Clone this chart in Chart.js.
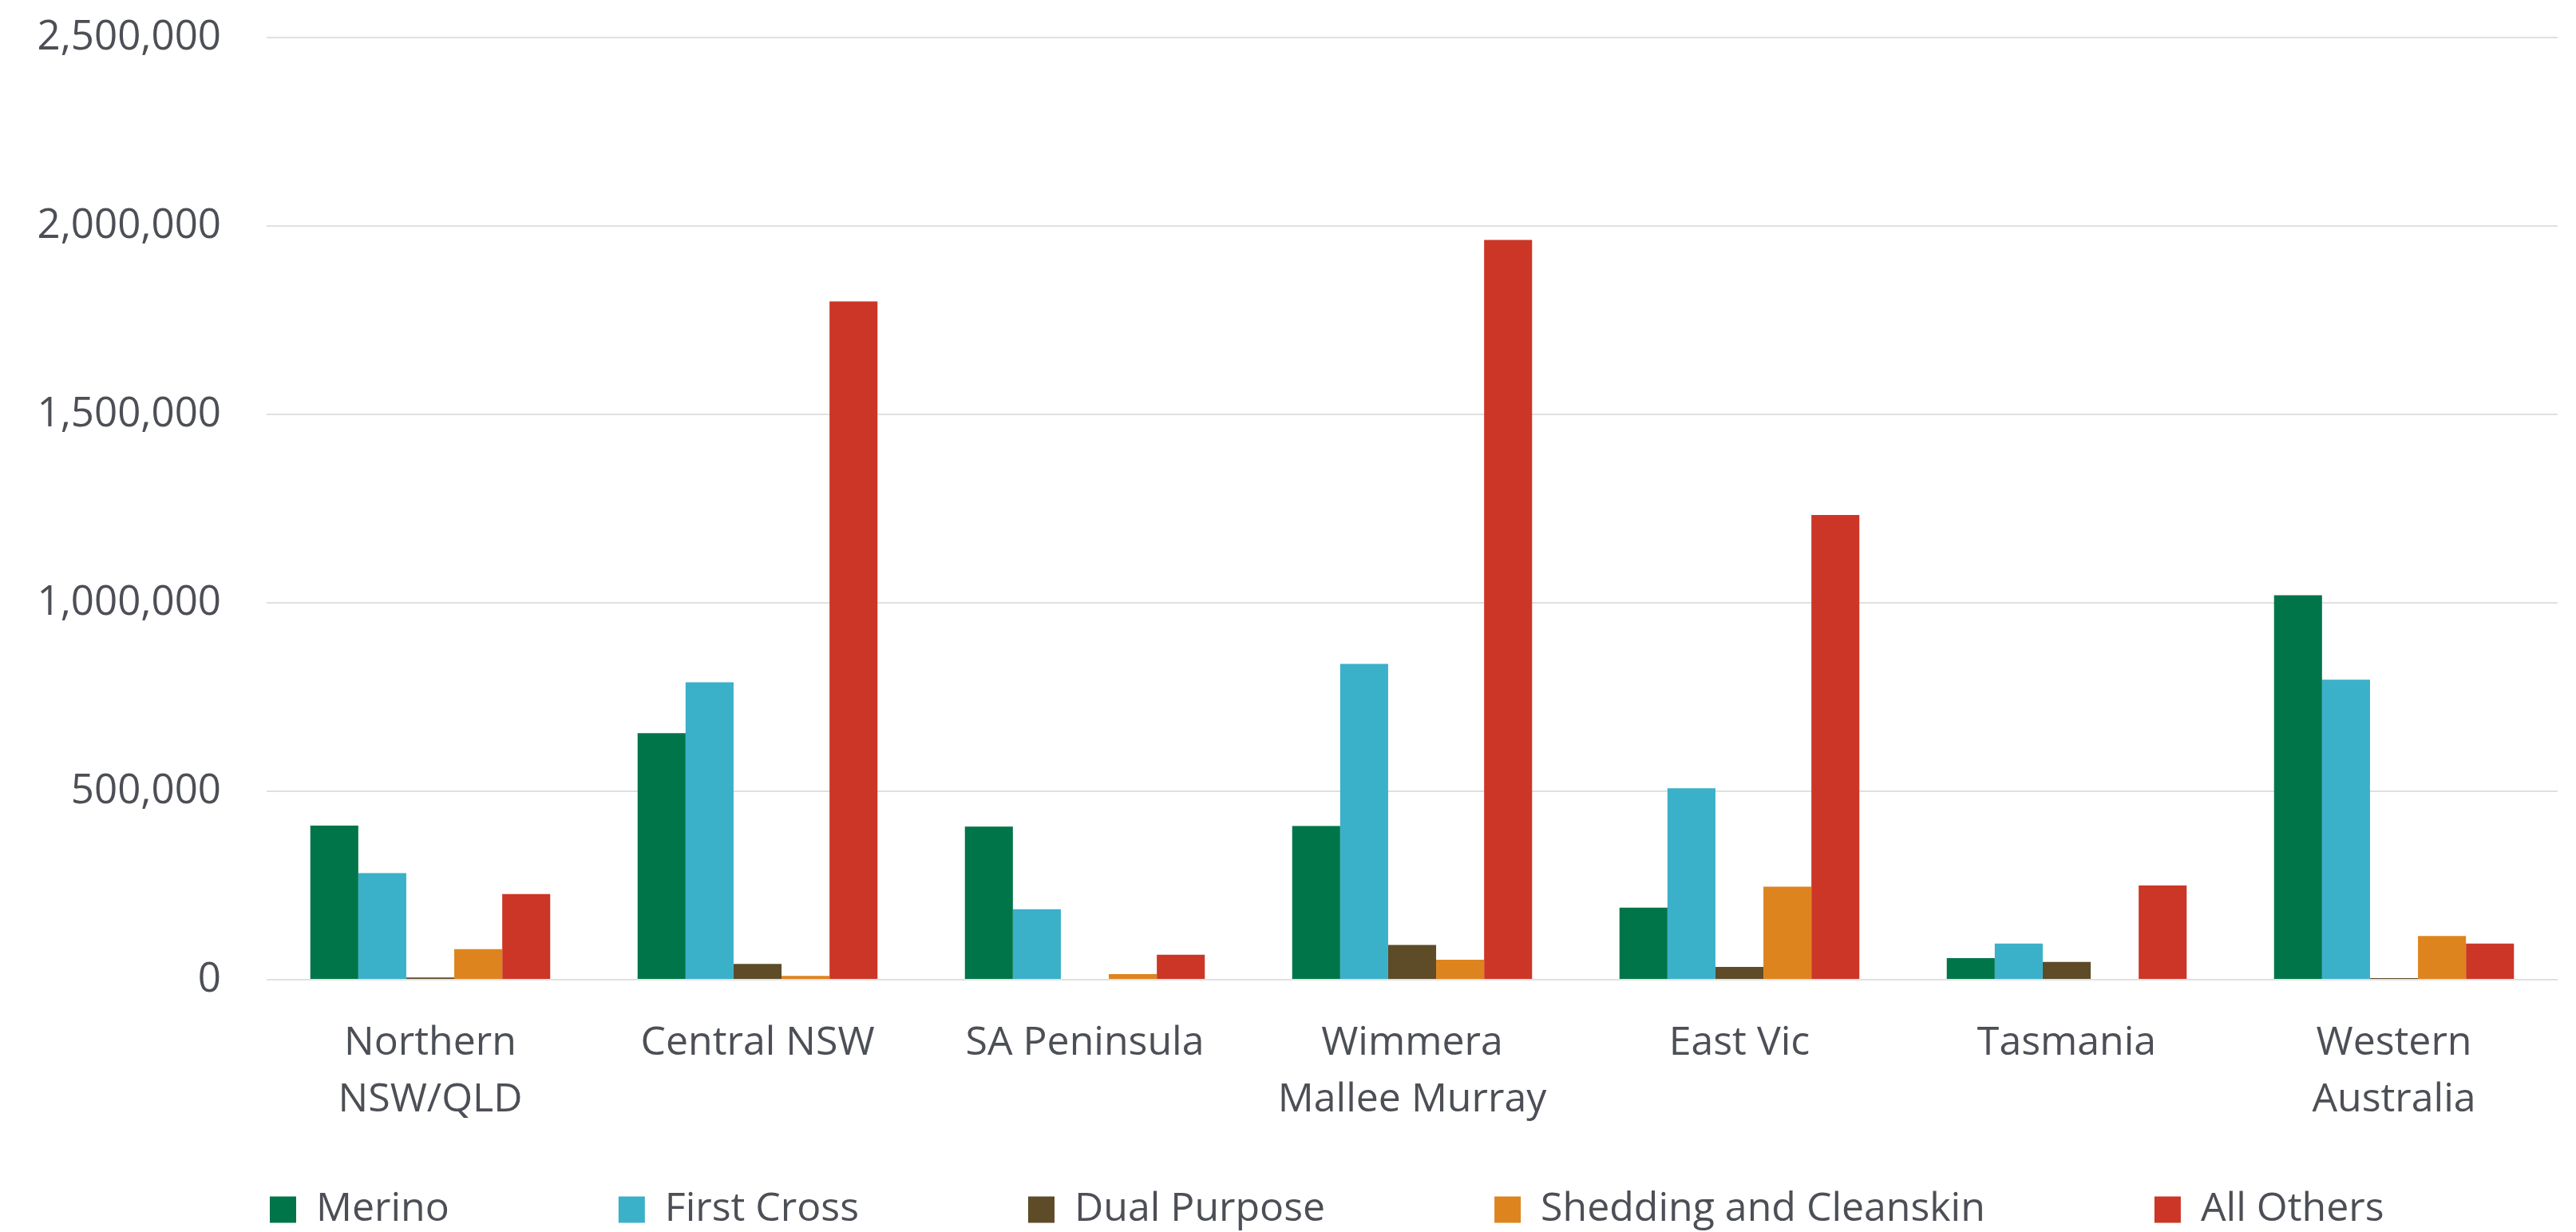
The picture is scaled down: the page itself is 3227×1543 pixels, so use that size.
<!DOCTYPE html>
<html lang="en">
<head>
    <meta charset="UTF-8">
    <title>Sheep by region</title>
    <script src="https://cdn.jsdelivr.net/npm/chart.js"></script>
    <style>
        html, body { margin: 0; padding: 0; background: #fff; }
        #wrap { width: 3227px; height: 1543px; position: relative; }
    </style>
</head>
<body>
    <div id="wrap"><canvas id="regionChart"></canvas></div>

    <script>
        // categories + series values
        const regions = [['Northern', 'NSW/QLD'], 'Central NSW', 'SA Peninsula', ['Wimmera', 'Mallee Murray'], 'East Vic', 'Tasmania', ['Western', 'Australia']];
        const merino      = [409000, 654000, 406000, 408000, 191000, 57000, 1020000];
        const firstCross  = [283000, 789000, 187000, 838000, 508000, 96000, 796000];
        const dualPurpose = [6000, 42000, 0, 92000, 34000, 47000, 4000];
        const shedding    = [81000, 10000, 15000, 53000, 247000, 0, 116000];
        const allOthers   = [227000, 1800000, 66000, 1963000, 1233000, 250000, 96000];
        const yTicks = [0, 500000, 1000000, 1500000, 2000000, 2500000];

        const textColor = '#4c4f55';
        const gridColor = '#e0e0e0';
        const legendGap = 212;

        // legend: wide gaps between items, but keep it in one short row under the axis labels
        const legendPlacer = {
            id: 'legendPlacer',
            beforeInit(chart) {
                const legend = chart.legend;
                const fit = legend.fit;
                legend.fit = function () {
                    fit.call(this);
                    this.height = 116;
                };
            },
            afterLayout(chart) {
                const legend = chart.legend;
                legend.left = 338 - legendGap;
                legend.right = chart.width * 2;
                legend.top = 1490 - legendGap;
            }
        };

        const ctx = document.getElementById('regionChart').getContext('2d');
        new Chart(ctx, {
            type: 'bar',
            data: {
                labels: regions,
                datasets: [
                    { label: 'Merino', data: merino, backgroundColor: '#00754a' },
                    { label: 'First Cross', data: firstCross, backgroundColor: '#3bb0c9' },
                    { label: 'Dual Purpose', data: dualPurpose, backgroundColor: '#5e4b28' },
                    { label: 'Shedding and Cleanskin', data: shedding, backgroundColor: '#de841e' },
                    { label: 'All Others', data: allOthers, backgroundColor: '#cc3626' }
                ]
            },
            plugins: [legendPlacer],
            options: {
                responsive: true,
                maintainAspectRatio: false,
                devicePixelRatio: 1,
                animation: false,
                datasets: {
                    bar: { barPercentage: 1, categoryPercentage: 0.733 }
                },
                layout: {
                    padding: { top: 47, right: 23, bottom: 0, left: 20 }
                },
                plugins: {
                    tooltip: { enabled: false },
                    legend: {
                        position: 'bottom',
                        align: 'start',
                        labels: {
                            boxWidth: 33,
                            boxHeight: 33,
                            padding: legendGap,
                            color: textColor,
                            font: { family: 'Open Sans', size: 50 }
                        }
                    }
                },
                scales: {
                    x: {
                        grid: { display: false, drawTicks: false },
                        border: { display: false },
                        ticks: {
                            color: textColor,
                            padding: 44,
                            maxRotation: 0,
                            autoSkip: false,
                            font: { family: 'Open Sans', size: 50, lineHeight: 1.42 }
                        },
                        afterFit: scale => { scale.height = 200; }
                    },
                    y: {
                        min: 0,
                        max: 2500000,
                        grid: { color: gridColor, lineWidth: 2, drawTicks: false },
                        border: { display: false },
                        afterBuildTicks: scale => { scale.ticks = yTicks.map(v => ({ value: v })); },
                        ticks: {
                            color: textColor,
                            padding: 57,
                            font: { family: 'Open Sans', size: 51 },
                            callback: v => v.toLocaleString('en-US')
                        },
                        afterFit: scale => {
                            scale.width = 314;
                            scale.paddingTop = 0;
                            scale.paddingBottom = 0;
                        }
                    }
                }
            }
        });
    </script>
</body>
</html>
